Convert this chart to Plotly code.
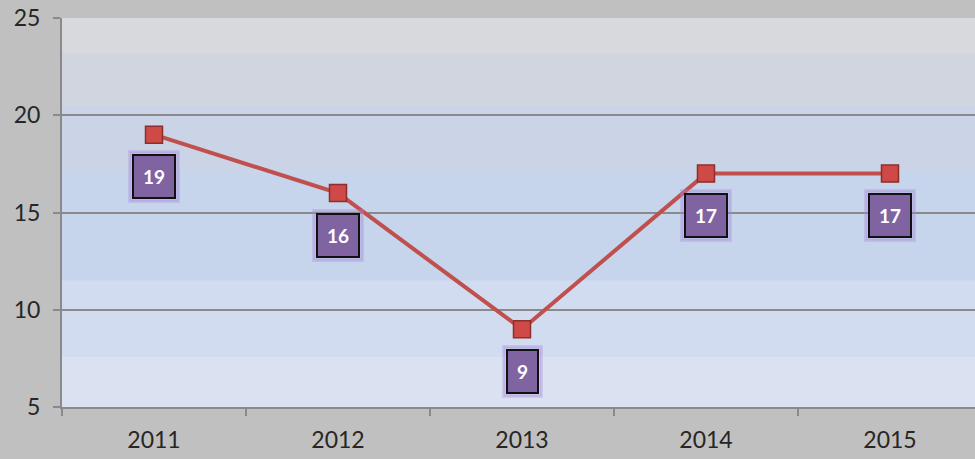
import plotly.graph_objects as go

# chart data
years = ['2011', '2012', '2013', '2014', '2015']
values = [19, 16, 9, 17, 17]
y_ticks = [5, 10, 15, 20, 25]

# background bands of the plot area (bottom, top in y units, colour)
bands = [
    (5, 7.6, '#dae2f2'),
    (7.6, 11.5, '#d2dcf0'),
    (11.5, 17.1, '#c6d4ec'),
    (17.1, 20.5, '#cbd4e6'),
    (20.5, 23.2, '#d0d5e0'),
    (23.2, 25, '#d8d9dc'),
]

fig = go.Figure()

fig.add_trace(go.Scatter(
    x=years, y=values, mode='lines+markers',
    line=dict(color='#c0504d', width=4),
    marker=dict(symbol='square', size=17, color='#cf4a46',
                line=dict(color='#8c2f2c', width=1.5)),
    hoverinfo='x+y', showlegend=False,
))

# background gradient as stacked bands
for y0, y1, col in bands:
    fig.add_shape(type='rect', xref='x domain', yref='y', x0=0, x1=1,
                  y0=y0, y1=y1, fillcolor=col, line_width=0, layer='below')

# data labels: glow box behind + purple box (x as category index)
for i, v in enumerate(values):
    fig.add_annotation(x=i, y=v, text='<b>%d</b>' % v, showarrow=False,
                       yshift=-42, font=dict(family='Lato', size=19, color='rgba(0,0,0,0)'),
                       bgcolor='rgba(160,130,215,0.3)', borderpad=12,
                       bordercolor='rgba(170,140,220,0.3)', borderwidth=3)
    fig.add_annotation(x=i, y=v, text='<b>%d</b>' % v, showarrow=False,
                       yshift=-42, font=dict(family='Lato', size=19, color='white'),
                       bgcolor='#8064a2', bordercolor='#111111', borderwidth=2,
                       borderpad=9)

fig.update_layout(
    width=975, height=459,
    margin=dict(l=62, r=0, t=18, b=52),
    paper_bgcolor='#c0c0c0',
    plot_bgcolor='#d2dcf0',
    font=dict(family='Lato', size=23, color='#262626'),
)
fig.update_xaxes(
    type='category', range=[-0.5, 4.462],
    tickson='boundaries', ticks='outside', ticklen=7, tickwidth=2, tickcolor='#8a8a8a',
    showline=True, linecolor='#8a8a8a', linewidth=2, showgrid=False,
    tickfont=dict(size=23), ticklabelstandoff=11,
)
fig.update_yaxes(
    range=[5, 25], tickvals=y_ticks,
    ticks='outside', ticklen=7, tickwidth=2, tickcolor='#8a8a8a',
    showline=True, linecolor='#8a8a8a', linewidth=2,
    showgrid=True, gridcolor='#8a8a8a', gridwidth=2, zeroline=False,
    tickfont=dict(size=23), ticklabelstandoff=8,
)

fig.write_html("out.html", config={'displayModeBar': False},
               post_script="document.body.style.margin='0';")
